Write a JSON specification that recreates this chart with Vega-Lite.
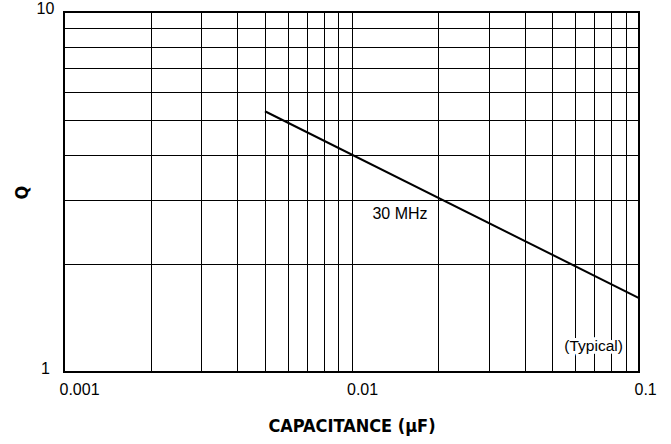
{
  "$schema": "https://vega.github.io/schema/vega-lite/v6.json",
  "width": 575,
  "height": 360,
  "autosize": "none",
  "padding": {"left": 64, "top": 12, "right": 32, "bottom": 72},
  "background": "white",
  "config": {
    "view": {"stroke": "black", "strokeWidth": 2},
    "font": "Liberation Sans"
  },
  "datasets": {
    "curve": [
      {"C": 0.005, "Q": 5.3},
      {"C": 0.1, "Q": 1.605}
    ],
    "labels": [
      {"C": 0.01475, "Q": 2.75, "text": "30 MHz", "size": 16},
      {"C": 0.0695, "Q": 1.18, "text": "(Typical)", "size": 15.5}
    ]
  },
  "layer": [
    {
      "data": {"name": "curve"},
      "mark": {"type": "line", "color": "black", "strokeWidth": 2, "clip": true},
      "encoding": {
        "x": {
          "field": "C",
          "type": "quantitative",
          "scale": {"type": "log", "domain": [0.001, 0.1], "nice": false},
          "axis": {
            "values": [0.001, 0.002, 0.003, 0.004, 0.005, 0.006, 0.007, 0.008, 0.009, 0.01, 0.02, 0.03, 0.04, 0.05, 0.06, 0.07, 0.08, 0.09, 0.1],
            "format": "~g",
            "labelExpr": "datum.value == 0.001 || datum.value == 0.01 || datum.value == 0.1 ? datum.label : ''",
            "grid": true,
            "gridColor": "black",
            "gridOpacity": 1,
            "gridWidth": 1,
            "ticks": false,
            "tickSize": 0,
            "domain": false,
            "labelFont": "Liberation Sans",
            "labelFontSize": 16,
            "labelColor": "black",
            "labelAlign": "left",
            "labelOffset": -5,
            "labelBaseline": "top",
            "labelPadding": 9,
            "labelFlush": false,
            "labelOverlap": false,
            "title": "CAPACITANCE (µF)",
            "titleFont": "DejaVu Sans Condensed, Liberation Sans",
            "titleFontSize": 18,
            "titleFontWeight": "bold",
            "titleColor": "black",
            "titleBaseline": "alphabetic",
            "titleY": 59,
            "titleX": 287.5,
            "titleAlign": "center"
          }
        },
        "y": {
          "field": "Q",
          "type": "quantitative",
          "scale": {"type": "log", "domain": [1, 10], "nice": false},
          "axis": {
            "values": [1, 2, 3, 4, 5, 6, 7, 8, 9, 10],
            "format": "d",
            "labelExpr": "datum.value == 1 || datum.value == 10 ? datum.label : ''",
            "grid": true,
            "gridColor": "black",
            "gridOpacity": 1,
            "gridWidth": 1,
            "ticks": false,
            "tickSize": 0,
            "domain": false,
            "labelFont": "Liberation Sans",
            "labelFontSize": 16,
            "labelColor": "black",
            "labelAlign": "center",
            "labelPadding": 19,
            "labelBaseline": "alphabetic",
            "labelOffset": 1,
            "labelFlush": false,
            "labelOverlap": false,
            "title": "Q",
            "titleFont": "DejaVu Sans Condensed, Liberation Sans",
            "titleFontSize": 18,
            "titleFontWeight": "bold",
            "titleColor": "black",
            "titleAngle": 270,
            "titleBaseline": "alphabetic",
            "titleAlign": "center",
            "titleX": -37,
            "titleY": 180
          }
        }
      }
    },
    {
      "data": {"name": "labels"},
      "mark": {"type": "text", "font": "Liberation Sans", "baseline": "middle", "align": "center", "stroke": "white", "strokeWidth": 6, "fill": "white", "strokeJoin": "round"},
      "encoding": {
        "x": {"field": "C", "type": "quantitative"},
        "y": {"field": "Q", "type": "quantitative"},
        "text": {"field": "text"},
        "size": {"field": "size", "type": "quantitative", "scale": null}
      }
    },
    {
      "data": {"name": "labels"},
      "mark": {"type": "text", "font": "Liberation Sans", "baseline": "middle", "align": "center", "color": "black"},
      "encoding": {
        "x": {"field": "C", "type": "quantitative"},
        "y": {"field": "Q", "type": "quantitative"},
        "text": {"field": "text"},
        "size": {"field": "size", "type": "quantitative", "scale": null}
      }
    }
  ]
}
